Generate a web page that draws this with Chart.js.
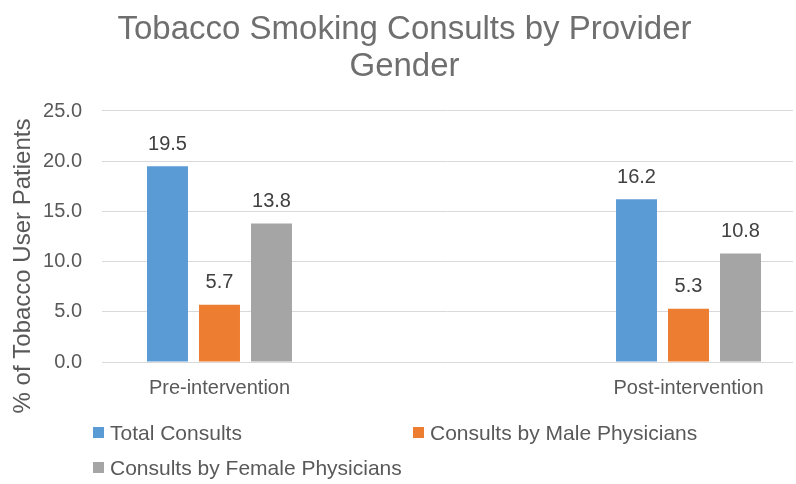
<!DOCTYPE html>
<html>
<head>
<meta charset="utf-8">
<script src="https://cdn.jsdelivr.net/npm/chart.js@4/dist/chart.umd.min.js"></script>
<style>
  html, body { margin: 0; padding: 0; background: #ffffff; }
  #wrap { position: relative; width: 796px; height: 484px; overflow: hidden; }
  #chart { position: absolute; left: 0; top: 0; }
  .leg { position: absolute; font-family: "Liberation Sans", Arial, sans-serif; font-size: 21px; color: #595959; white-space: nowrap; line-height: 24px; }
  .leg span.box { position: absolute; left: 0; top: 6px; width: 11px; height: 11px; }
  .leg span.txt { position: absolute; left: 17px; top: 0; }
</style>
</head>
<body>
<div id="wrap">
  <canvas id="chart" width="796" height="484"></canvas>
</div>
<script>
// Consult rates before and after the intervention, split by physician gender
const categories = ['Pre-intervention', 'Post-intervention'];
const seriesNames = ['Total Consults', 'Consults by Male Physicians', 'Consults by Female Physicians'];
const totalConsults = [19.5, 16.2];
const maleConsults = [5.7, 5.3];
const femaleConsults = [13.8, 10.8];
const yTicks = [0, 5, 10, 15, 20, 25];
const seriesColors = ['#5b9bd5', '#ed7d31', '#a5a5a5'];

const FONT = '"Liberation Sans", Arial, sans-serif';

// Value labels above each bar
const valueLabels = {
  id: 'valueLabels',
  afterDatasetsDraw(chart) {
    const ctx = chart.ctx;
    ctx.save();
    ctx.font = '20px ' + FONT;
    ctx.fillStyle = '#404040';
    ctx.textAlign = 'center';
    ctx.textBaseline = 'middle';
    chart.data.datasets.forEach((ds, i) => {
      chart.getDatasetMeta(i).data.forEach((bar, j) => {
        ctx.fillText(ds.data[j].toFixed(1), bar.x, bar.y - 22);
      });
    });
    ctx.restore();
  }
};

// Rotated y-axis caption, centred a little below the plot's middle
const yCaption = {
  id: 'yCaption',
  afterDraw(chart) {
    const ctx = chart.ctx;
    ctx.save();
    ctx.translate(23, 266);
    ctx.rotate(-Math.PI / 2);
    ctx.font = '24px ' + FONT;
    ctx.fillStyle = '#595959';
    ctx.textAlign = 'center';
    ctx.textBaseline = 'middle';
    ctx.fillText('% of Tobacco User Patients', 0, 0);
    ctx.restore();
  }
};

// Nudge the title block slightly right of the canvas centre
const titleShift = {
  id: 'titleShift',
  afterLayout(chart) {
    const t = chart.titleBlock;
    if (t) { t.left += 8; t.right += 8; }
  }
};

const chart = new Chart(document.getElementById('chart'), {
  type: 'bar',
  data: {
    labels: categories,
    datasets: [
      { label: seriesNames[0], data: totalConsults, backgroundColor: seriesColors[0] },
      { label: seriesNames[1], data: maleConsults, backgroundColor: seriesColors[1] },
      { label: seriesNames[2], data: femaleConsults, backgroundColor: seriesColors[2] }
    ]
  },
  options: {
    responsive: false,
    animation: false,
    devicePixelRatio: 1,
    layout: { padding: { left: 0, right: 3, top: 0, bottom: 0 } },
    datasets: { bar: { categoryPercentage: 0.3326, barPercentage: 0.788 } },
    plugins: {
      legend: { display: false },
      tooltip: { enabled: false },
      title: {
        display: true,
        text: ['Tobacco Smoking Consults by Provider', 'Gender'],
        color: '#6f6f6f',
        font: { family: FONT, size: 33, weight: 'normal', lineHeight: 1.121 },
        padding: { top: 11.5, bottom: 25.5 }
      }
    },
    scales: {
      x: {
        type: 'category',
        offset: false,
        afterBuildTicks(scale) {
          // wide side margins so the two groups sit near the plot edges
          scale._startValue = -0.2505;
          scale._valueRange = 1.4733;
        },
        afterFit(scale) { scale.height = 122; },
        grid: { display: false, drawTicks: false },
        border: { display: false },
        ticks: {
          color: '#595959',
          font: { family: FONT, size: 20 },
          padding: 14,
          maxRotation: 0,
          autoSkip: false
        }
      },
      y: {
        min: 0,
        max: 25,
        afterFit(scale) { scale.width = 102; },
        afterBuildTicks(scale) { scale.ticks = yTicks.map(v => ({ value: v })); },
        grid: { color: '#d9d9d9', lineWidth: 1, drawTicks: false },
        border: { display: false },
        ticks: {
          color: '#595959',
          font: { family: FONT, size: 20 },
          padding: 20,
          callback: v => Number(v).toFixed(1)
        }
      }
    }
  },
  plugins: [valueLabels, yCaption, titleShift]
});

// Legend laid out in two columns
const legendSpots = [[93, 421], [413, 421], [93, 456]];
const wrap = document.getElementById('wrap');
seriesNames.forEach((name, i) => {
  const item = document.createElement('div');
  item.className = 'leg';
  item.style.left = legendSpots[i][0] + 'px';
  item.style.top = legendSpots[i][1] + 'px';
  const box = document.createElement('span');
  box.className = 'box';
  box.style.background = seriesColors[i];
  const txt = document.createElement('span');
  txt.className = 'txt';
  txt.textContent = name;
  item.appendChild(box);
  item.appendChild(txt);
  wrap.appendChild(item);
});
</script>
</body>
</html>
